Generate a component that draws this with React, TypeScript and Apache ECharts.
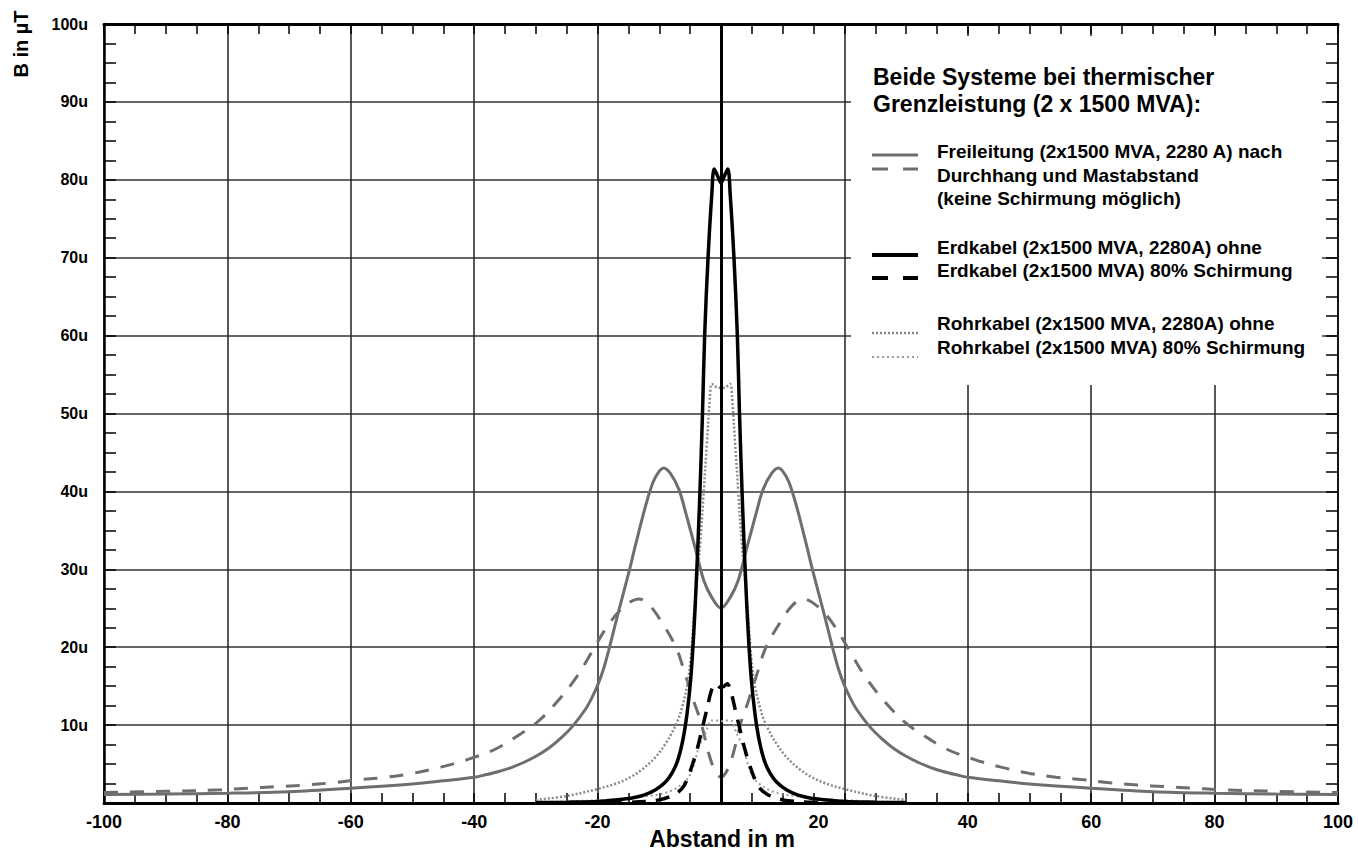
import React, { useEffect, useRef } from "react";
import * as echarts from "echarts";

// distance in m, flux density in µT
const xTicks = [-100, -80, -60, -40, -20, 0, 20, 40, 60, 80, 100];
const yTicks = [0, 10, 20, 30, 40, 50, 60, 70, 80, 90, 100];

const freileitung: [number, number][] = [
  [-100, 1.1], [-90, 1.15], [-80, 1.25], [-70, 1.45], [-60, 1.9], [-50, 2.45], [-45, 2.85], [-40, 3.3],
  [-38, 3.65], [-36, 4.05], [-34, 4.55], [-32, 5.2], [-30, 6.0], [-28, 7.0], [-26, 8.3], [-24, 9.9],
  [-22, 12], [-21, 13.4], [-20, 15.1], [-19, 17.3], [-18.2, 19.6], [-16.6, 24.6], [-15, 29.4], [-13.8, 33.3],
  [-12.2, 38.2], [-11, 41.2], [-10, 42.6], [-9.3, 43], [-8.2, 42.3], [-6.8, 40.2], [-5.7, 37.2], [-4.1, 32.5],
  [-2.8, 28.6], [-1.5, 26.4], [0, 25],
  [1.5, 26.4], [2.8, 28.6], [4.1, 32.5], [5.7, 37.2], [6.8, 40.2], [8.2, 42.3], [9.3, 43], [10, 42.6],
  [11, 41.2], [12.2, 38.2], [13.8, 33.3], [15, 29.4], [16.6, 24.6], [18.2, 19.6], [19, 17.3], [20, 15.1],
  [21, 13.4], [22, 12], [24, 9.9], [26, 8.3], [28, 7.0], [30, 6.0], [32, 5.2], [34, 4.55],
  [36, 4.05], [38, 3.65], [40, 3.3], [45, 2.85], [50, 2.45], [60, 1.9], [70, 1.45], [80, 1.25],
  [90, 1.15], [100, 1.1],
];

const freileitungDurchhang: [number, number][] = [
  [-100, 1.35], [-90, 1.5], [-81, 1.7], [-76.7, 1.9], [-72, 2.1], [-67.5, 2.3], [-63, 2.6], [-58.5, 3.0],
  [-54.3, 3.3], [-50, 3.8], [-45.4, 4.6], [-41, 5.6], [-36.6, 6.9], [-32.8, 8.7], [-29.6, 10.5], [-26, 13.5],
  [-23.4, 16.2], [-21, 19.3], [-18.5, 22.6], [-16, 25], [-13.3, 26.2], [-11.5, 25.3], [-9.6, 23.2], [-7.3, 20],
  [-5.8, 16.5], [-4.4, 13], [-3.3, 10.5], [-2, 6.4], [-1, 4.2], [0, 3.3],
  [1, 4.2], [2, 6.4], [3.3, 10.5], [4.4, 13], [5.8, 16.5], [7.3, 20], [9.6, 23.2], [11.5, 25.3],
  [13.3, 26.2], [16, 25], [18.5, 22.6], [21, 19.3], [23.4, 16.2], [26, 13.5], [29.6, 10.5], [32.8, 8.7],
  [36.6, 6.9], [41, 5.6], [45.4, 4.6], [50, 3.8], [54.3, 3.3], [58.5, 3.0], [63, 2.6], [67.5, 2.3],
  [72, 2.1], [76.7, 1.9], [81, 1.7], [90, 1.5], [100, 1.35],
];

const erdkabelOhne: [number, number][] = [
  [-30, 0.05], [-25, 0.1], [-20, 0.2], [-17, 0.4], [-14.4, 0.65], [-12.5, 1.0], [-10.6, 1.7], [-9, 2.7],
  [-7.9, 3.9], [-7, 5.5], [-6.2, 8], [-5.5, 11.5], [-4.9, 16], [-4.4, 22], [-4, 28.5], [-3.5, 38],
  [-3, 50], [-2.65, 60], [-2.1, 70], [-1.5, 78], [-1.1, 81.4], [-0.6, 80.6], [0, 79.6],
  [0.6, 80.6], [1.1, 81.4], [1.5, 78], [2.1, 70], [2.65, 60], [3, 50], [3.5, 38], [4, 28.5],
  [4.4, 22], [4.9, 16], [5.5, 11.5], [6.2, 8], [7, 5.5], [7.9, 3.9], [9, 2.7], [10.6, 1.7],
  [12.5, 1.0], [14.4, 0.65], [17, 0.4], [20, 0.2], [25, 0.1], [30, 0.05],
];

const erdkabel80: [number, number][] = [
  [-30, 0.02], [-20, 0.05], [-15, 0.1], [-12, 0.2], [-10, 0.4], [-8, 0.9], [-6.8, 1.5], [-6, 2.2],
  [-5.3, 3.4], [-4.6, 5], [-3.9, 6.8], [-3.3, 8.7], [-2.3, 12], [-1.6, 14.3], [-1, 15.3], [-0.5, 15], [0, 14.8],
  [0.5, 15], [1, 15.3], [1.6, 14.3], [2.3, 12], [3.3, 8.7], [3.9, 6.8], [4.6, 5], [5.3, 3.4],
  [6, 2.2], [6.8, 1.5], [8, 0.9], [10, 0.4], [12, 0.2], [15, 0.1], [20, 0.05], [30, 0.02],
];

const rohrkabelOhne: [number, number][] = [
  [-30, 0.4], [-25, 0.9], [-20, 1.8], [-17, 2.5], [-14.5, 3.4], [-12.8, 4.3], [-10.6, 5.9], [-9, 7.6],
  [-8.1, 8.8], [-7, 10.6], [-6.3, 12.3], [-5.5, 15], [-4.9, 18.6], [-4.4, 24], [-3.9, 28.5], [-3.3, 34],
  [-2.8, 40], [-2.3, 46], [-1.8, 52], [-1.5, 53.8], [-0.8, 53.4], [0, 53.3],
  [0.8, 53.4], [1.5, 53.8], [1.8, 52], [2.3, 46], [2.8, 40], [3.3, 34], [3.9, 28.5], [4.4, 24],
  [4.9, 18.6], [5.5, 15], [6.3, 12.3], [7, 10.6], [8.1, 8.8], [9, 7.6], [10.6, 5.9], [12.8, 4.3],
  [14.5, 3.4], [17, 2.5], [20, 1.8], [25, 0.9], [30, 0.4],
];

const rohrkabel80: [number, number][] = [
  [-30, 0.1], [-20, 0.35], [-15, 0.6], [-12, 0.9], [-10, 1.1], [-8, 1.6], [-6.3, 2.4], [-5.5, 3],
  [-4.7, 4.2], [-4, 6], [-3.6, 7.2], [-2.8, 8.5], [-2.2, 9.6], [-1.6, 10.6], [-0.8, 10.6], [0, 10.5],
  [0.8, 10.6], [1.6, 10.6], [2.2, 9.6], [2.8, 8.5], [3.6, 7.2], [4, 6], [4.7, 4.2], [5.5, 3],
  [6.3, 2.4], [8, 1.6], [10, 1.1], [12, 0.9], [15, 0.6], [20, 0.35], [30, 0.1],
];

const legendTitle = ["Beide Systeme bei thermischer", "Grenzleistung (2 x 1500 MVA):"];
const legendLines = [
  "Freileitung (2x1500 MVA, 2280 A) nach",
  "Durchhang und Mastabstand",
  "(keine Schirmung möglich)",
  "Erdkabel (2x1500 MVA, 2280A) ohne",
  "Erdkabel (2x1500 MVA) 80% Schirmung",
  "Rohrkabel (2x1500 MVA, 2280A) ohne",
  "Rohrkabel (2x1500 MVA) 80% Schirmung",
];

const FONT = '"Liberation Sans", Arial, sans-serif';
const GRAY = "#6e6e6e";
const DOT1 = "#8a8a8a";
const DOT2 = "#9c9c9c";

export default function App() {
  const ref = useRef<HTMLDivElement>(null);
  useEffect(() => {
    if (!ref.current) return;
    const chart = echarts.init(ref.current, undefined, { renderer: "svg" });

    const baseX = {
      type: "value",
      min: xTicks[0],
      max: xTicks[xTicks.length - 1],
      interval: 20,
      axisTick: { show: true, inside: true, length: 10, lineStyle: { color: "#000", width: 1.5 } },
      minorTick: { show: true, splitNumber: 4, length: 10, lineStyle: { color: "#000", width: 1.5 } },
    };
    const baseY = {
      type: "value",
      min: yTicks[0],
      max: yTicks[yTicks.length - 1],
      interval: 10,
      axisTick: { show: true, inside: true, length: 12, lineStyle: { color: "#000", width: 1.5 } },
      minorTick: { show: true, splitNumber: 4, length: 12, lineStyle: { color: "#000", width: 1.5 } },
    };

    const lineSeries = (name: string, data: [number, number][], color: string, width: number, type: any, z: number) => ({
      name,
      type: "line",
      data,
      showSymbol: false,
      smooth: 0.35,
      z,
      lineStyle: { color, width, type },
      emphasis: { disabled: true },
    });

    const gText = (text: string, x: number, y: number, size: number) => ({
      type: "text",
      x,
      y,
      z: 101,
      style: { text, fill: "#000", fontSize: size, fontWeight: "bold", fontFamily: FONT, align: "left", verticalAlign: "middle" },
    });
    const gLine = (y: number, stroke: string, width: number, dash?: number[]) => ({
      type: "line",
      z: 101,
      shape: { x1: 872, y1: y, x2: 918, y2: y },
      style: { stroke, lineWidth: width, lineDash: dash },
    });

    const legendYs = [151, 175, 198, 247, 270, 323, 347];
    const labelStyle = { color: "#000", fontSize: 18, fontWeight: "bold", fontFamily: FONT };

    chart.setOption({
      animation: false,
      backgroundColor: "#fff",
      grid: { left: 104, right: 20, top: 24, bottom: 50 },
      xAxis: [
        {
          ...baseX,
          position: "bottom",
          axisLine: { show: true, onZero: false, lineStyle: { color: "#000", width: 3 } },
          splitLine: { show: true, lineStyle: { color: "#222", width: 1.5 } },
          axisLabel: {
            show: true,
            margin: 10,
            ...labelStyle,
            formatter: (v: number) => (v === 0 ? "" : v === 20 ? "{s|20}" : String(v)),
            rich: { s: { ...labelStyle, padding: [0, 52, 0, 0] } },
          },
        },
        {
          ...baseX,
          position: "top",
          axisLine: { show: true, onZero: false, lineStyle: { color: "#000", width: 3 } },
          splitLine: { show: false },
          axisLabel: { show: false },
        },
      ],
      yAxis: [
        {
          ...baseY,
          position: "left",
          axisLine: { show: true, onZero: false, lineStyle: { color: "#000", width: 2.5 } },
          splitLine: { show: true, lineStyle: { color: "#333", width: 1.5 } },
          axisLabel: {
            show: true,
            margin: 16,
            color: "#000",
            fontSize: 16,
            fontWeight: "bold",
            fontFamily: FONT,
            formatter: (v: number) => (v === 0 ? "" : v + "u"),
          },
        },
        {
          ...baseY,
          position: "right",
          axisLine: { show: true, onZero: false, lineStyle: { color: "#000", width: 1.5 } },
          splitLine: { show: false },
          axisLabel: { show: false },
        },
      ],
      series: [
        {
          ...lineSeries("Freileitung", freileitung, GRAY, 3, "solid", 2),
          markLine: {
            symbol: "none",
            silent: true,
            label: { show: false },
            lineStyle: { color: "#000", width: 3, type: "solid" },
            data: [{ xAxis: 0 }],
          },
        },
        lineSeries("Freileitung Durchhang", freileitungDurchhang, GRAY, 3, [14, 12], 3),
        lineSeries("Rohrkabel ohne", rohrkabelOhne, DOT1, 2.5, [2, 2], 4),
        lineSeries("Rohrkabel 80%", rohrkabel80, DOT2, 2, [2, 3], 5),
        lineSeries("Erdkabel 80%", erdkabel80, "#000", 3.5, [14, 10], 6),
        lineSeries("Erdkabel ohne", erdkabelOhne, "#000", 3.5, "solid", 7),
      ],
      graphic: [
        { type: "rect", z: 100, shape: { x: 851, y: 36, width: 471, height: 349 }, style: { fill: "#fff" } },
        gText(legendTitle[0], 873, 77, 23),
        gText(legendTitle[1], 873, 104, 23),
        ...legendLines.map((t, i) => gText(t, 937, legendYs[i], 19)),
        gLine(155, GRAY, 3),
        gLine(169, GRAY, 3, [16, 15]),
        gLine(255, "#000", 4),
        gLine(278, "#000", 4, [16, 15]),
        gLine(333, DOT1, 2.5, [2, 2]),
        gLine(357, DOT2, 2, [2, 3]),
        {
          type: "text",
          x: 21,
          y: 44,
          rotation: Math.PI / 2,
          z: 101,
          style: { text: "B in µT", fill: "#000", fontSize: 20, fontWeight: "bold", fontFamily: FONT, align: "center", verticalAlign: "middle" },
        },
        {
          type: "text",
          x: 722,
          y: 839,
          z: 101,
          style: { text: "Abstand in m", fill: "#000", fontSize: 23, fontWeight: "bold", fontFamily: FONT, align: "center", verticalAlign: "middle" },
        },
      ],
    });
    return () => chart.dispose();
  }, []);
  return <div ref={ref} style={{ position: "absolute", left: 0, top: 0, width: 1358, height: 853 }} />;
}
